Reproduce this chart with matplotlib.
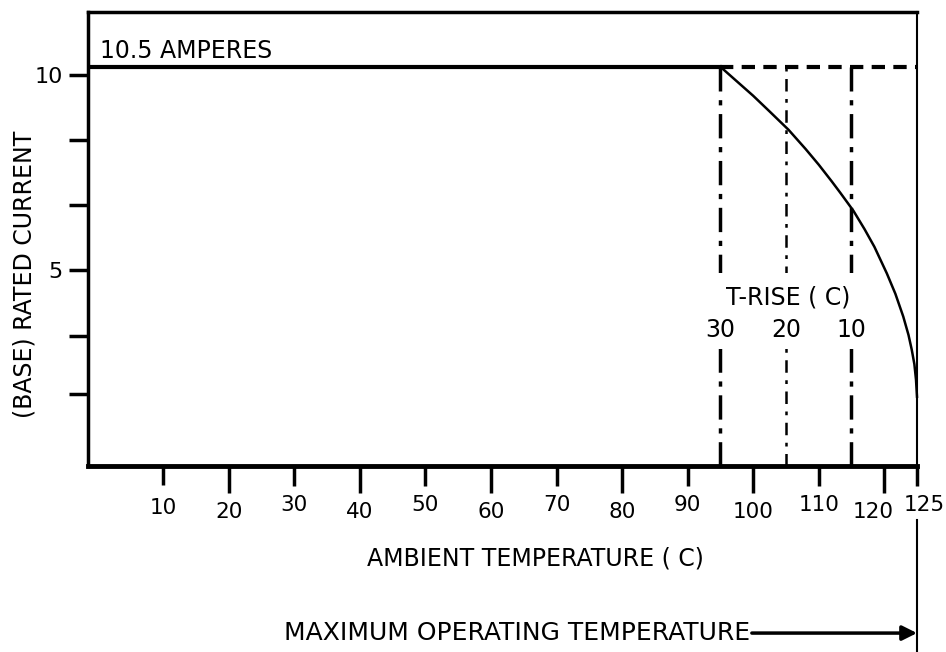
import matplotlib.pyplot as plt
from matplotlib.transforms import ScaledTranslation

# temperature axis (C)
temp_ticks = [10, 20, 30, 40, 50, 60, 70, 80, 90, 100, 110, 120, 125]
current_ticks = [1.85, 3.33, 5, 6.67, 8.33, 10]
current_labels = ['', '', '5', '', '', '10']

rated_current = 10.2   # the "10.5 AMPERES" line
max_temp = 125

# T-rise limit lines
rise_temps = [95, 105, 115]
rise_labels = ['30', '20', '10']

# derating curve
curve_t = [95, 97.5, 100, 102.5, 105.4, 108, 110, 112, 113.3, 115.3, 117, 118.5,
           120.4, 121.7, 122.9, 123.7, 124.2, 124.6, 124.85, 125]
curve_i = [10.2, 9.83, 9.46, 9.06, 8.59, 8.10, 7.70, 7.27, 6.98, 6.52, 6.05, 5.6,
           4.92, 4.4, 3.82, 3.35, 2.97, 2.6, 2.2, 1.77]

fig = plt.figure(figsize=(9.46, 6.52), dpi=100)
ax = fig.add_axes([88 / 946, 186 / 652, 829 / 946, 454 / 652])
ax.set_xlim(-1.5, max_temp)
ax.set_ylim(0, 11.6)

# rated current line: solid, then dashed past the first T-rise line
ax.plot([-1.5, rise_temps[0]], [rated_current, rated_current], color='black', lw=3)
ax.plot([rise_temps[0], max_temp], [rated_current, rated_current], color='black', lw=3,
        linestyle=(0, (3.2, 2)))

# T-rise vertical lines
styles = [(0, (7, 2.5, 1.5, 2.5)), (0, (5, 3, 1.5, 3)), (0, (7, 2.5, 1.5, 2.5))]
widths = [2.5, 1.8, 2.5]
for t, ls, w in zip(rise_temps, styles, widths):
    ax.plot([t, t], [0, rated_current], color='black', lw=w, linestyle=ls)

# derating curve
ax.plot(curve_t, curve_i, color='black', lw=1.8, clip_on=False)

# labels inside the plot
ax.text(0.3, 10.6, '10.5 AMPERES', fontsize=17, ha='left', va='center')
ax.text(105.3, 4.3, 'T-RISE ( C)', fontsize=17, ha='center', va='center', zorder=5,
        bbox=dict(facecolor='white', edgecolor='none', pad=9))
for t, lab in zip(rise_temps, rise_labels):
    ax.text(t, 3.48, lab, fontsize=17, ha='center', va='center', zorder=6,
            bbox=dict(facecolor='white', edgecolor='none', pad=5))

# spines
ax.spines['left'].set_linewidth(2.5)
ax.spines['bottom'].set_linewidth(3.5)
ax.spines['top'].set_linewidth(2.5)
ax.spines['right'].set_linewidth(1.5)

# y ticks
ax.set_yticks(current_ticks)
ax.set_yticklabels(current_labels)
ax.tick_params(axis='y', direction='out', length=14, width=2.5, labelsize=16, pad=4)

# x ticks, labels staggered like the hand-drawn original
ax.set_xticks(temp_ticks)
ax.set_xticklabels([str(t) for t in temp_ticks])
ax.tick_params(axis='x', direction='out', length=14, width=2.5, labelsize=15.5)
for i, tk in enumerate(ax.xaxis.get_major_ticks()):
    if i == 0:
        tk.set_pad(9)
        tk.tick1line.set_markersize(14)
    elif i % 2 == 1:
        tk.set_pad(12)
        tk.tick1line.set_markersize(19.5)
    else:
        tk.set_pad(7)
        tk.tick1line.set_markersize(14.4)
# nudge the last two labels apart, as in the drawing
ticks = ax.xaxis.get_major_ticks()
for tk, dx in [(ticks[-2], -8), (ticks[-1], 5)]:
    tk.label1.set_transform(tk.label1.get_transform()
                            + ScaledTranslation(dx / 72, 0, fig.dpi_scale_trans))

ax.set_xlabel('AMBIENT TEMPERATURE ( C)', fontsize=17)
ax.xaxis.set_label_coords(0.54, -0.178)
ax.set_ylabel('(BASE) RATED CURRENT', fontsize=17)
ax.yaxis.set_label_coords(-0.062, 0.423)

# maximum operating temperature marker
trans = ax.get_xaxis_transform()
ax.plot([max_temp, max_temp], [-0.119, -0.41], transform=trans, clip_on=False,
        color='black', lw=1.5)
ax.annotate('', xy=(max_temp, -0.368), xytext=(99.8, -0.368),
            xycoords=trans, textcoords=trans,
            arrowprops=dict(arrowstyle='-|>', color='black', lw=2.5,
                            mutation_scale=22, shrinkA=0, shrinkB=0))
ax.text(99.5, -0.368, 'MAXIMUM OPERATING TEMPERATURE', transform=trans,
        ha='right', va='center', fontsize=18)

fig.savefig('out.png', dpi=100)
